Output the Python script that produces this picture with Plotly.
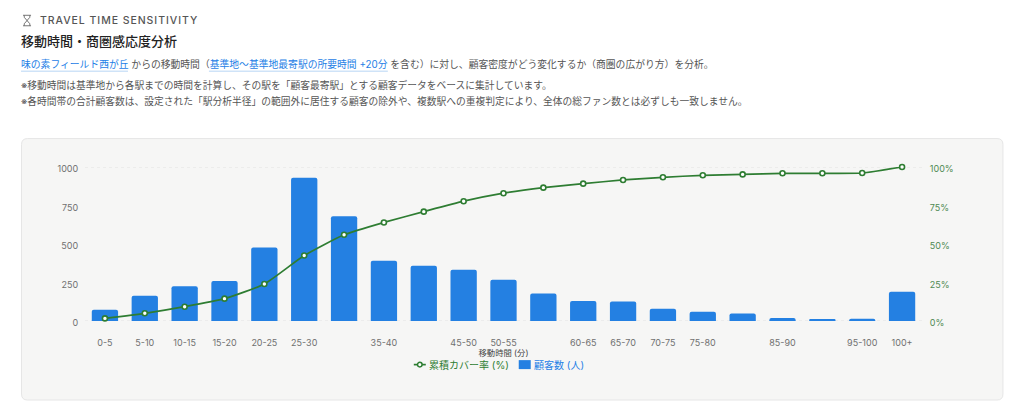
import plotly.graph_objects as go

categories = ["0-5","5-10","10-15","15-20","20-25","25-30","30-35","35-40","40-45","45-50","50-55",
              "55-60","60-65","65-70","70-75","75-80","80-85","85-90","90-95","95-100","100+"]
customers = [73,164,225,259,477,931,680,391,358,332,268,179,130,127,80,60,49,19,8,15,190]
coverage = [1.7,5,9.3,14.5,24,42.5,56,64,71,77.8,83,86.6,89.2,91.6,93.3,94.6,95.2,95.9,95.9,96.1,100]
shown_ticks = ["0-5","5-10","10-15","15-20","20-25","25-30","35-40","45-50","50-55",
               "60-65","65-70","70-75","75-80","85-90","95-100","100+"]
left_ticks = [0,250,500,750,1000]
right_ticks = [0,25,50,75,100]
right_labels = ["0%","25%","50%","75%","100%"]

W, H = 1024, 417
L, R, T, B = 85, 922.5, 167, 321.3
FONT = "Inter, 'Noto Sans CJK JP', sans-serif"
BLUE, GREEN = "#2480e2", "#2e7d32"
LINK = "#1e80e6"

def px(x): return (x - L) / (R - L)
def py(y): return (B - y) / (B - T)

def rr(x0, y0, x1, y1, r):
    return (f"M{px(x0+r)},{py(y0)} L{px(x1-r)},{py(y0)} Q{px(x1)},{py(y0)} {px(x1)},{py(y0+r)} "
            f"L{px(x1)},{py(y1-r)} Q{px(x1)},{py(y1)} {px(x1-r)},{py(y1)} L{px(x0+r)},{py(y1)} "
            f"Q{px(x0)},{py(y1)} {px(x0)},{py(y1-r)} L{px(x0)},{py(y0+r)} Q{px(x0)},{py(y0)} {px(x0+r)},{py(y0)} Z")

fig = go.Figure()
fig.add_bar(x=categories, y=customers, name="顧客数 (人)", marker=dict(color=BLUE, line=dict(width=0)),
            yaxis="y", width=0.66, showlegend=False)
fig.add_scatter(x=categories, y=coverage, name="累積カバー率 (%)", yaxis="y2", mode="lines+markers",
                line=dict(color=GREEN, width=1.7, shape="spline", smoothing=0.5), cliponaxis=False,
                marker=dict(size=5, color="white", line=dict(color=GREEN, width=1.6)), showlegend=False)

def note(x, y, text, size, color, weight=400):
    return dict(xref="paper", yref="paper", x=px(x), y=py(y), xanchor="left", yanchor="middle",
                text=text, showarrow=False, align="left",
                font=dict(family=FONT, size=size, color=color, weight=weight))

link = lambda s: f'<span style="color:{LINK}">{s}</span>'
annotations = [
    note(38, 20, '<span style="letter-spacing:0.95px">TRAVEL TIME SENSITIVITY</span>', 10.5, "#555555", 500),
    note(18.5, 41, "移動時間・商圏感応度分析", 13, "#222222", 500),
    note(18.5, 63.5, link("味の素フィールド西が丘") + " からの移動時間（" + link("基準地〜基準地最寄駅の所要時間 +20分")
         + " を含む）に対し、顧客密度がどう変化するか（商圏の広がり方）を分析。", 9.8, "#555555"),
    note(18.5, 85, "※移動時間は基準地から各駅までの時間を計算し、その駅を「顧客最寄駅」とする顧客データをベースに集計しています。", 9.75, "#555555"),
    note(18.5, 101, "※各時間帯の合計顧客数は、設定された「駅分析半径」の範囲外に居住する顧客の除外や、複数駅への重複判定により、全体の総ファン数とは必ずしも一致しません。", 9.75, "#555555"),
    # legend entries
    note(427, 365, "累積カバー率 (%)", 10, GREEN),
    note(532, 365, "顧客数 (人)", 10, LINK),
]

shapes = [
    dict(type="path", xref="paper", yref="paper", layer="below", path=rr(21.5, 138.5, 1003.5, 400.5, 6),
         fillcolor="#f6f6f5", line=dict(color="#e6e6e6", width=1)),
    dict(type="line", xref="paper", yref="paper", x0=px(21), x1=px(128), y0=py(71), y1=py(71),
         line=dict(color="#cfe3f8", width=1.5)),
    dict(type="line", xref="paper", yref="paper", x0=px(209), x1=px(388), y0=py(71), y1=py(71),
         line=dict(color="#cfe3f8", width=1.5)),
    dict(type="path", xref="paper", yref="paper",
         path=f"M{px(23)},{py(15)} L{px(31)},{py(15)} M{px(23)},{py(25.5)} L{px(31)},{py(25.5)} "
              f"M{px(24.2)},{py(15)} L{px(24.2)},{py(17)} L{px(29.8)},{py(23.5)} L{px(29.8)},{py(25.5)} "
              f"M{px(29.8)},{py(15)} L{px(29.8)},{py(17)} L{px(24.2)},{py(23.5)} L{px(24.2)},{py(25.5)}",
         line=dict(color="#666666", width=0.9)),
    # legend swatches
    dict(type="line", xref="paper", yref="paper", x0=px(414), x1=px(426), y0=py(365), y1=py(365),
         line=dict(color=GREEN, width=1.7)),
    dict(type="circle", xref="paper", yref="paper", x0=px(417.7), x1=px(422.3), y0=py(367.3), y1=py(362.7),
         fillcolor="white", line=dict(color=GREEN, width=1.5)),
    dict(type="rect", xref="paper", yref="paper", x0=px(519), x1=px(531), y0=py(369.5), y1=py(360.5),
         fillcolor=BLUE, line=dict(width=0)),
]

fig.update_layout(
    width=W, height=H, autosize=False,
    margin=dict(l=L, r=W - R, t=T, b=H - B, pad=0),
    paper_bgcolor="white", plot_bgcolor="rgba(0,0,0,0)",
    barcornerradius=2, showlegend=False,
    font=dict(family=FONT, size=9, color="#666666"),
    xaxis=dict(type="category", categoryorder="array", categoryarray=categories, tickmode="array", tickvals=shown_ticks,
               ticktext=shown_ticks, showgrid=False, zeroline=False, showline=False, ticks="outside", ticklen=13,
               tickcolor="rgba(0,0,0,0)", tickangle=0, tickfont=dict(size=9, color="#707070"),
               range=[-0.5, 20.5],
               title=dict(text="移動時間 (分)", font=dict(size=8.3, color="#444444"), standoff=3)),
    yaxis=dict(range=[0, 1000], tickvals=left_ticks, showgrid=False,
               zeroline=False, showline=False, tickfont=dict(size=9, color="#707070"),
               ticks="outside", ticklen=4, tickcolor="rgba(0,0,0,0)", ticklabelshift=2),
    yaxis2=dict(range=[0, 100], tickvals=right_ticks, ticktext=right_labels, overlaying="y", side="right",
                showgrid=False, zeroline=False, showline=False, tickfont=dict(size=9, color="#4f8a53"),
                ticks="outside", ticklen=5, tickcolor="rgba(0,0,0,0)", ticklabelshift=2),
    shapes=shapes, annotations=annotations,
)
for v in (0, 1000):
    fig.add_shape(type="line", xref="paper", yref="y", x0=0, x1=1, y0=v, y1=v, layer="below",
                  line=dict(color="#e2e2e2", width=1, dash="dot"))

fig.write_html("out.html", config={"displayModeBar": False}, post_script="document.body.style.margin='0';")
